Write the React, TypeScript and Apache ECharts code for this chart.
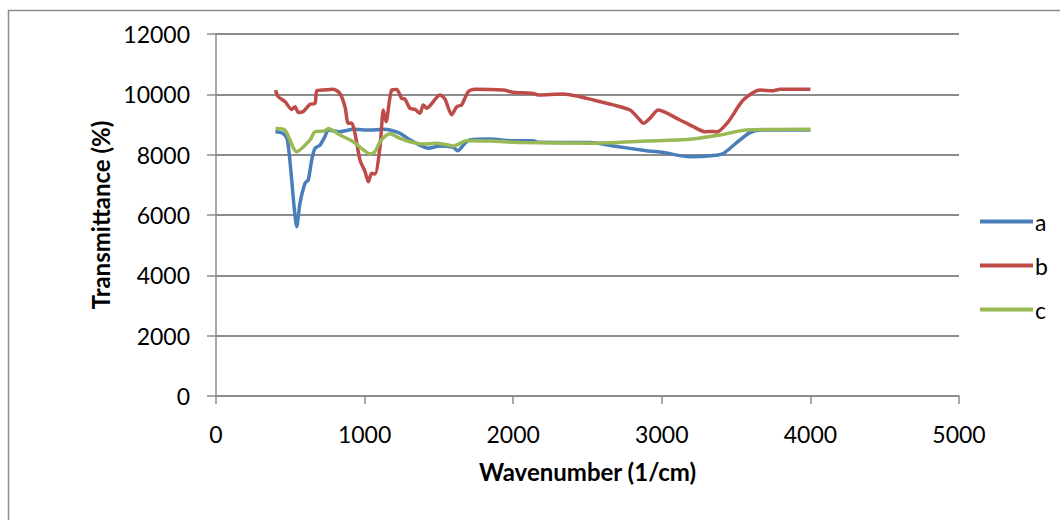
import React, { useEffect, useRef } from "react";
import * as echarts from "echarts";

// FTIR spectra: [wavenumber (1/cm), transmittance (%)]
const seriesNames = ["a", "b", "c"];

const spectrumA: [number, number][] = [
  [400, 8760], [450, 8710], [480, 8500], [505, 7400], [525, 6300], [543, 5610],
  [565, 6390], [599, 7050], [621, 7160], [644, 7820], [666, 8210], [700, 8320],
  [733, 8600], [756, 8820], [834, 8760], [924, 8840], [1036, 8820], [1126, 8840],
  [1171, 8820], [1238, 8710], [1305, 8490], [1429, 8210], [1507, 8290],
  [1597, 8240], [1626, 8130], [1676, 8380], [1709, 8490], [1844, 8520],
  [2000, 8460], [2135, 8460], [2169, 8410], [2517, 8400], [2673, 8290],
  [2898, 8130], [3010, 8070], [3190, 7930], [3346, 7970], [3414, 8040],
  [3504, 8400], [3593, 8730], [3661, 8820], [4000, 8820],
];

const spectrumB: [number, number][] = [
  [400, 10140], [419, 9920], [464, 9760], [509, 9500], [532, 9590], [554, 9400],
  [587, 9430], [633, 9670], [666, 9700], [678, 10120], [711, 10140], [789, 10170],
  [834, 10030], [868, 9590], [890, 9040], [913, 9050], [935, 8710], [969, 7820],
  [1003, 7440], [1025, 7100], [1048, 7380], [1070, 7360], [1104, 8270],
  [1126, 9480], [1144, 9090], [1182, 10140], [1216, 10160], [1249, 9870],
  [1272, 9840], [1305, 9540], [1339, 9500], [1373, 9370], [1395, 9650],
  [1418, 9540], [1507, 9980], [1541, 9840], [1586, 9320], [1620, 9590],
  [1653, 9650], [1698, 10090], [1743, 10170], [1933, 10140], [2000, 10070],
  [2135, 10030], [2169, 9980], [2337, 10010], [2449, 9920], [2517, 9840],
  [2673, 9650], [2786, 9480], [2842, 9210], [2876, 9040], [2921, 9210],
  [2976, 9480], [3122, 9150], [3212, 8930], [3291, 8760], [3346, 8770],
  [3369, 8750], [3447, 9090], [3548, 9810], [3661, 10140], [3750, 10120],
  [3795, 10170], [4000, 10170],
];

const spectrumC: [number, number][] = [
  [400, 8870], [464, 8820], [543, 8100], [633, 8490], [666, 8760], [733, 8790],
  [756, 8870], [834, 8650], [924, 8430], [991, 8160], [1036, 8020], [1070, 8100],
  [1104, 8430], [1137, 8610], [1171, 8690], [1238, 8540], [1305, 8430],
  [1395, 8350], [1485, 8380], [1597, 8290], [1687, 8460], [1844, 8450],
  [2068, 8400], [2517, 8380], [2898, 8450], [3190, 8510], [3391, 8650],
  [3571, 8820], [4000, 8840],
];

const spectra = [spectrumA, spectrumB, spectrumC];
const seriesColors = ["#4a7ebb", "#be4b48", "#98b954"];

const FONT = "Lato, 'Open Sans', sans-serif";
const plain = (v: number) => String(v);

export default function App() {
  const ref = useRef<HTMLDivElement>(null);

  useEffect(() => {
    if (!ref.current) return;
    const chart = echarts.init(ref.current, undefined, { renderer: "svg" });
    const axisGray = "#8c8c8c";

    chart.setOption({
      animation: false,
      backgroundColor: "#ffffff",
      textStyle: { fontFamily: FONT },
      grid: { left: 216, right: 101, top: 34, bottom: 124 },
      graphic: [
        {
          type: "rect",
          shape: { x: 8.5, y: 10.5, width: 1200, height: 700 },
          style: { fill: "none", stroke: "#8c8c8c", lineWidth: 1.5 },
          silent: true,
        },
      ],
      legend: {
        orient: "vertical",
        left: 975,
        top: 205,
        itemWidth: 53,
        itemHeight: 4,
        itemGap: 21,
        icon: "rect",
        data: seriesNames,
        textStyle: { fontFamily: FONT, fontSize: 23, color: "#000", padding: [0, 0, 0, -3] },
      },
      xAxis: {
        type: "value",
        min: 0,
        max: 5000,
        interval: 1000,
        name: "Wavenumber (1/cm)",
        nameLocation: "middle",
        nameGap: 63,
        nameTextStyle: { fontFamily: FONT, fontSize: 24, fontWeight: "bold", color: "#000" },
        axisLine: { show: true, lineStyle: { color: axisGray, width: 1.5 } },
        axisTick: { show: true, length: 8, lineStyle: { color: axisGray, width: 1.5 } },
        axisLabel: { fontFamily: FONT, fontSize: 23, color: "#000", margin: 26, formatter: plain },
        splitLine: { show: false },
      },
      yAxis: {
        type: "value",
        min: 0,
        max: 12000,
        interval: 2000,
        name: "Transmittance (%)",
        nameLocation: "middle",
        nameGap: 102,
        nameTextStyle: { fontFamily: FONT, fontSize: 24, fontWeight: "bold", color: "#000" },
        axisLine: { show: true, lineStyle: { color: axisGray, width: 1.5 } },
        axisTick: { show: true, length: 9, lineStyle: { color: axisGray, width: 1.5 } },
        axisLabel: { fontFamily: FONT, fontSize: 23, color: "#000", margin: 26, formatter: plain },
        splitLine: { show: true, lineStyle: { color: axisGray, width: 1.8 } },
      },
      series: spectra.map((data, i) => ({
        name: seriesNames[i],
        type: "line",
        data,
        showSymbol: false,
        smooth: 0.25,
        lineStyle: { color: seriesColors[i], width: 3.5 },
        itemStyle: { color: seriesColors[i] },
      })),
    });

    return () => chart.dispose();
  }, []);

  return (
    <div
      ref={ref}
      style={{ position: "fixed", left: 0, top: 0, width: 1060, height: 520, background: "#fff" }}
    />
  );
}
